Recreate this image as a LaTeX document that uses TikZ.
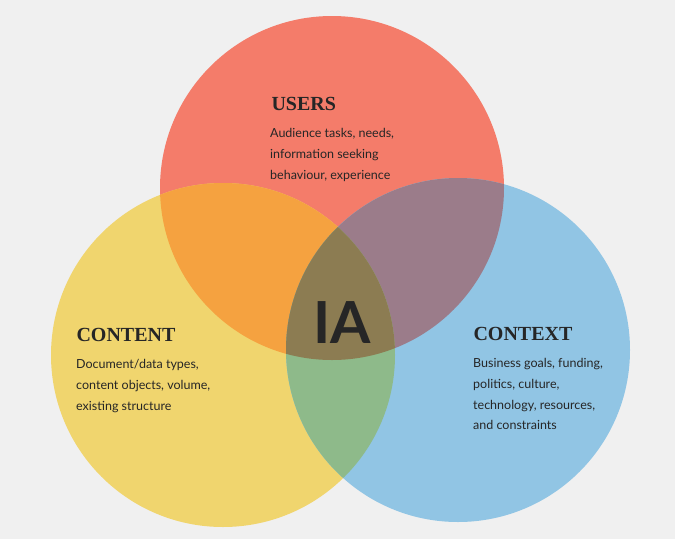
\documentclass[tikz,border=0pt]{standalone}
\usepackage{fontspec}
\setmainfont{Lato}
\newfontfamily\headfont{Liberation Serif}
\begin{document}
\begin{tikzpicture}[x=1pt,y=-1pt,
  head/.style={anchor=west,font=\headfont\bfseries\fontsize{20}{20}\selectfont,text=black!85},
  body/.style={anchor=north west,align=left,font=\fontsize{12.5}{20.8}\selectfont,text=black!85,inner sep=0pt}]
\fill[gray!12] (0,0) rectangle (675,539);
\def\usr{(332,188) circle (172)}
\def\cnt{(223,355) circle (172)}
\def\ctx{(458,350) circle (172)}
\fill[fill={rgb,255:red,244;green,124;blue,106}] \usr;
\fill[fill={rgb,255:red,240;green,213;blue,110}] \cnt;
\fill[fill={rgb,255:red,145;green,197;blue,228}] \ctx;
\begin{scope}\clip \usr; \fill[fill={rgb,255:red,245;green,162;blue,64}] \cnt; \end{scope}
\begin{scope}\clip \usr; \fill[fill={rgb,255:red,155;green,124;blue,138}] \ctx; \end{scope}
\begin{scope}\clip \cnt; \fill[fill={rgb,255:red,142;green,186;blue,138}] \ctx; \end{scope}
\begin{scope}\clip \usr; \clip \cnt; \fill[fill={rgb,255:red,140;green,124;blue,82}] \ctx; \end{scope}
\node[head] (u) at (268,104) {USERS};
\node[body] (ub) at (270,128) {Audience tasks, needs,\\information seeking\\behaviour, experience};
\node[head] (c) at (73,335) {CONTENT};
\node[body] (cb) at (76,359) {Document/data types,\\content objects, volume,\\existing structure};
\node[head] (x) at (470,334) {CONTEXT};
\node[body] (xb) at (473,358) {Business goals, funding,\\politics, culture,\\technology, resources,\\and constraints};
\node[font=\fontsize{58}{58}\selectfont\bfseries,text=black!85] (ia) at (342,323) {IA};
\end{tikzpicture}
\end{document}
